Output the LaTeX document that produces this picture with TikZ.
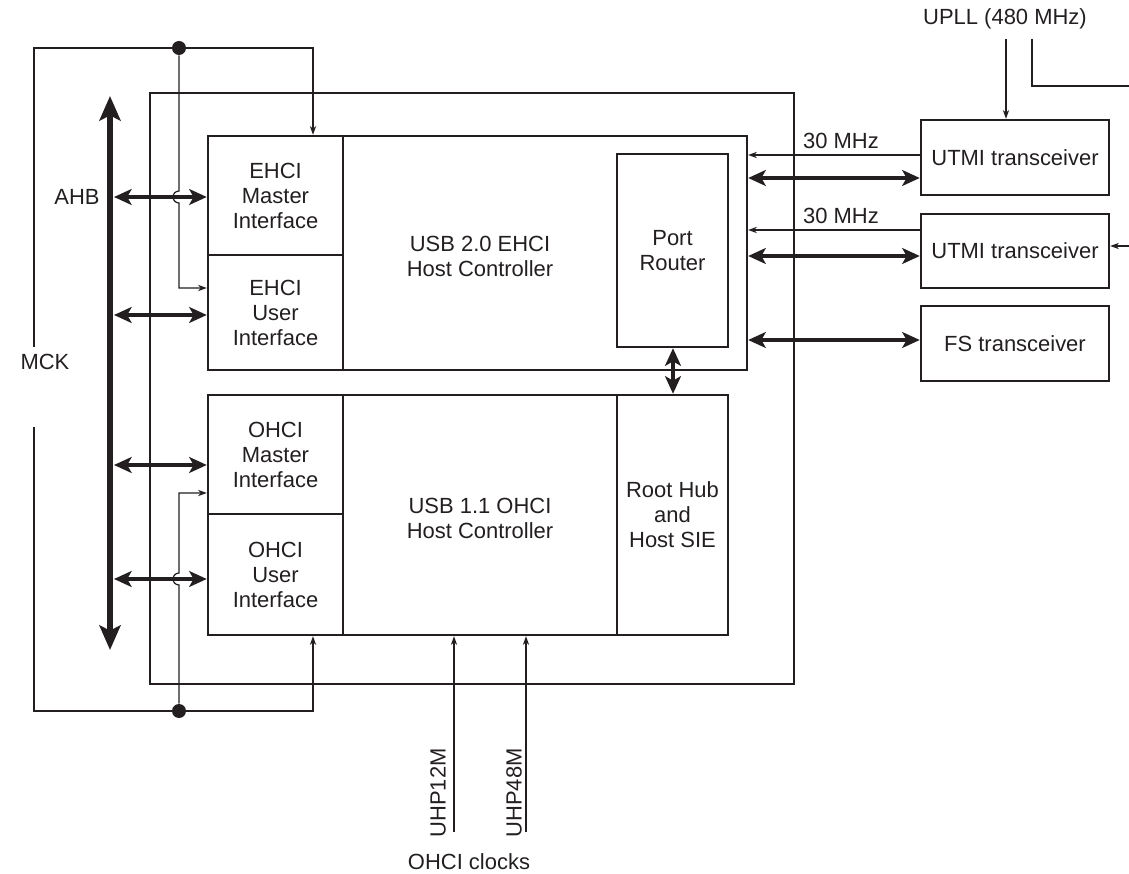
\documentclass[tikz,border=0pt]{standalone}
\usepackage{fontspec}
\setmainfont{Liberation Sans}
\usepackage{xcolor}
\usetikzlibrary{arrows.meta,positioning,calc}
\definecolor{ink}{HTML}{231F20}

\tikzset{
 blk/.style={draw=ink,line width=1.4pt,inner sep=0pt,align=center,text=ink},
 lbl/.style={text=ink,inner sep=1pt,align=center},
 bus/.style={{Stealth[length=10pt,width=9pt,inset=2.5pt]}-{Stealth[length=10pt,width=9pt,inset=2.5pt]},line width=2.3pt,draw=ink},
 sig/.style={-{Stealth[length=5pt,width=3.6pt]},line width=0.7pt,draw=ink},
 wire/.style={line width=0.7pt,draw=ink},
 dot/.style={circle,fill=ink,inner sep=0pt,minimum size=0.28cm},
}

\begin{document}
\begin{tikzpicture}[x=0.02cm,y=-0.02cm,font=\fontsize{12.5}{14.2}\selectfont]
 \useasboundingbox (0,0) rectangle (1129,874);

 % chip and host controllers
 \node[blk,minimum width=12.88cm,minimum height=11.82cm] (chip) at (472,388.5) {};
 \node[blk,minimum width=10.78cm,minimum height=4.68cm] (ehci) at (477.5,253) {};
 \node[blk,minimum width=2.7cm,minimum height=2.38cm] (emaster) at (275.5,195.5) {EHCI\\Master\\Interface};
 \node[blk,minimum width=2.7cm,minimum height=2.3cm] (euser) at (275.5,312.5) {EHCI\\User\\Interface};
 \node[blk,minimum width=2.22cm,minimum height=3.86cm] (router) at (672.5,250.5) {Port\\Router};
 \node[lbl] (ehcitxt) at (480,256) {USB 2.0 EHCI\\Host Controller};

 \node[blk,minimum width=10.4cm,minimum height=4.8cm] (ohci) at (468,515) {};
 \node[blk,minimum width=2.7cm,minimum height=2.38cm] (omaster) at (275.5,454.5) {OHCI\\Master\\Interface};
 \node[blk,minimum width=2.7cm,minimum height=2.42cm] (ouser) at (275.5,574.5) {OHCI\\User\\Interface};
 \node[blk,minimum width=2.22cm,minimum height=4.8cm] (roothub) at (672.5,515) {Root Hub\\and\\Host SIE};
 \node[lbl] (ohcitxt) at (480,518) {USB 1.1 OHCI\\Host Controller};

 % transceivers
 \node[blk,minimum width=3.76cm,minimum height=1.5cm] (utmia) at (1015,157.5) {UTMI transceiver};
 \node[blk,minimum width=3.76cm,minimum height=1.48cm] (utmib) at (1015,251) {UTMI transceiver};
 \node[blk,minimum width=3.76cm,minimum height=1.5cm] (fs) at (1015,343.5) {FS transceiver};

 % labels
 \node[lbl] (ahblbl) at (77,197) {AHB};
 \node[lbl] (mcklbl) at (45,362) {MCK};
 \node[lbl] (uplllbl) at (1005,19) {UPLL (480 MHz)};
 \node[lbl] (clklbl) at (469,862) {OHCI clocks};
 \node[lbl,rotate=90] (uhp12) at (438,793) {UHP12M};
 \node[lbl,rotate=90] (uhp48) at (514,793) {UHP48M};

 % MCK distribution
 \node[dot] (dota) at (179,48) {};
 \node[dot] (dotb) at (179,711) {};
 \coordinate (mcktop) at (34,347);
 \coordinate (mckbot) at (34,427);
 \coordinate (mckin) at (313,0);
 \draw[sig] (mcktop) |- (dota) -| (mckin |- emaster.north);
 \draw[sig] (dota) -- (179,191) arc[start angle=90,end angle=270,radius=0.12cm] -- (179,288) -- (euser.west |- 0,288);
 \draw[sig] (mckbot) |- (dotb) -| (mckin |- ouser.south);
 \draw[sig] (dotb) -- (179,585) arc[start angle=270,end angle=90,radius=0.12cm] -- (179,493) -- (omaster.west |- 0,493);

 % AHB
 \coordinate (ahbtop) at (110,96);
 \coordinate (ahbbot) at (110,650);
 \coordinate (ahbr) at (114,0);
 \draw[bus,{Stealth[length=14pt,width=12pt,inset=3pt]}-{Stealth[length=14pt,width=12pt,inset=3pt]},line width=3.4pt] (ahbtop) -- (ahbbot);
 \draw[bus] (ahbr |- 0,197) -- (emaster.west |- 0,197);
 \draw[bus] (ahbr |- 0,315) -- (euser.west |- 0,315);
 \draw[bus] (ahbr |- 0,465) -- (omaster.west |- 0,465);
 \draw[bus] (ahbr |- 0,579) -- (ouser.west |- 0,579);

 % transceiver links
 \draw[sig] (utmia.west |- 0,155) -- node[midway,above=2pt,lbl,xshift=4pt] {30 MHz} (ehci.east |- 0,155);
 \draw[bus] (ehci.east |- 0,178) -- (utmia.west |- 0,178);
 \draw[sig] (utmib.west |- 0,230) -- node[midway,above=2pt,lbl,xshift=4pt] {30 MHz} (ehci.east |- 0,230);
 \draw[bus] (ehci.east |- 0,256) -- (utmib.west |- 0,256);
 \draw[bus] (ehci.east |- 0,340) -- (fs.west |- 0,340);
 \coordinate (rr) at (673,0);
 \draw[bus] (rr |- router.south) -- (rr |- roothub.north);

 % UPLL
 \coordinate (upa) at (1006,39);
 \coordinate (upb) at (1032,39);
 \coordinate (upout) at (1129,86);
 \coordinate (upin) at (1129,246);
 \draw[sig] (upa) -- (upa |- utmia.north);
 \draw[wire] (upb) |- (upout);
 \draw[sig] (upin) -- (utmib.east |- upin);

 % OHCI clocks
 \coordinate (ck12) at (454,832);
 \coordinate (ck48) at (526,832);
 \draw[sig] (ck12) -- (ck12 |- ohci.south);
 \draw[sig] (ck48) -- (ck48 |- ohci.south);
\end{tikzpicture}
\end{document}
